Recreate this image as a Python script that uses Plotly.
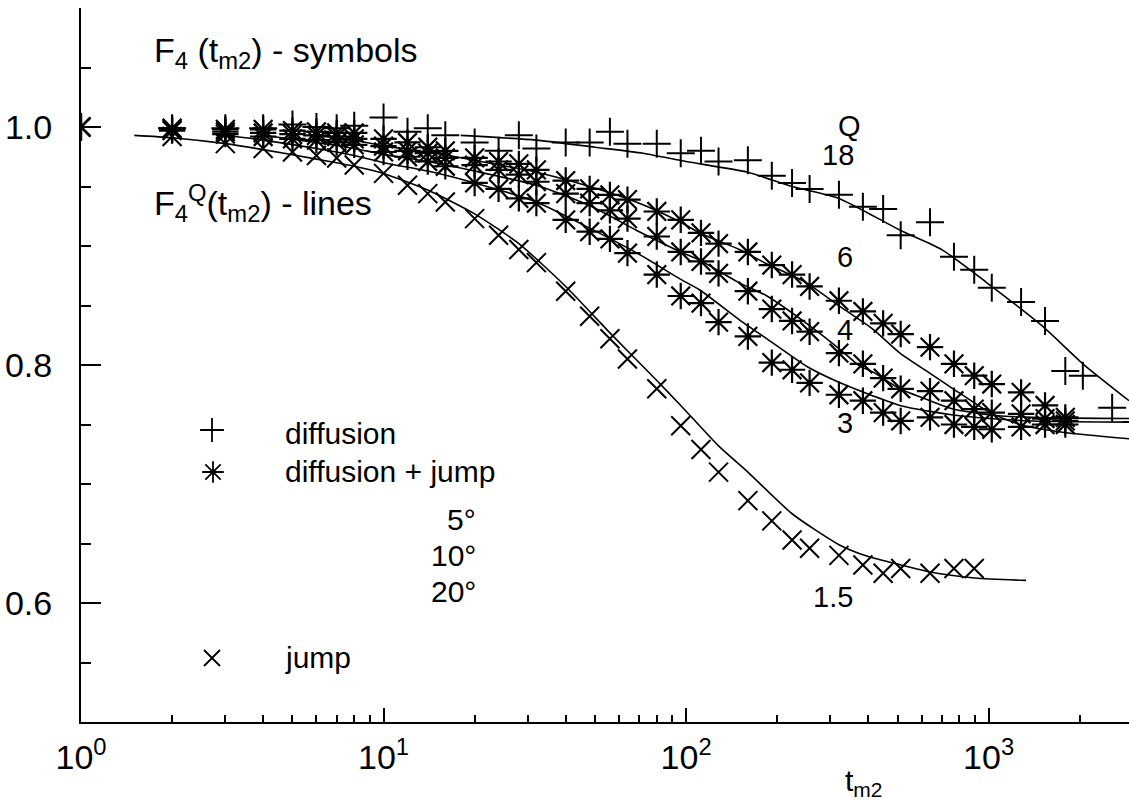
import plotly.graph_objects as go
import math

# ---------------- data ----------------
t_diff = [1, 2, 3, 4, 5, 6, 7, 8, 10, 12, 14, 16, 20, 24, 28, 32, 40, 48, 56, 64,
          80, 96, 112, 128, 160, 192, 224, 256, 320, 384, 448, 512, 640, 768, 896,
          1024, 1280, 1536, 1792, 2048, 2560, 3072]
f_diff = [1.0, 0.999, 0.999, 0.999, 1.002, 1.0, 0.999, 1.001, 1.008, 0.996, 0.999, 0.993,
          0.987, 0.980, 0.993, 0.982, 0.987, 0.987, 0.996, 0.986, 0.986, 0.978, 0.980, 0.971,
          0.972, 0.959, 0.953, 0.948, 0.943, 0.933, 0.931, 0.909, 0.920, 0.891, 0.880, 0.865,
          0.853, 0.837, 0.795, 0.791, 0.764, 0.752]

t_dj = [1, 2, 3, 4, 5, 6, 7, 8, 10, 12, 14, 16, 20, 24, 28, 32, 40, 48, 56, 64,
        80, 96, 112, 128, 160, 192, 224, 256, 320, 384, 448, 512, 640, 768, 896,
        1024, 1280, 1536, 1792]
f_dj_5 = [1.0, 0.999, 0.998, 0.998, 0.997, 0.996, 0.995, 0.995, 0.990, 0.987, 0.983, 0.980,
          0.974, 0.971, 0.969, 0.964, 0.955, 0.948, 0.943, 0.939, 0.929, 0.922, 0.911, 0.902,
          0.895, 0.884, 0.876, 0.866, 0.854, 0.845, 0.835, 0.826, 0.815, 0.801, 0.791, 0.784,
          0.777, 0.766, 0.756]
f_dj_10 = [1.0, 0.998, 0.996, 0.995, 0.994, 0.993, 0.992, 0.990, 0.984, 0.980, 0.978, 0.974,
           0.968, 0.964, 0.960, 0.954, 0.944, 0.936, 0.930, 0.923, 0.908, 0.895, 0.887, 0.877,
           0.862, 0.847, 0.837, 0.828, 0.810, 0.801, 0.789, 0.780, 0.778, 0.770, 0.763, 0.760,
           0.759, 0.755, 0.753]
f_dj_20 = [1.0, 0.997, 0.994, 0.992, 0.990, 0.989, 0.987, 0.985, 0.979, 0.975, 0.971, 0.967,
           0.953, 0.948, 0.940, 0.936, 0.922, 0.912, 0.906, 0.894, 0.876, 0.858, 0.852, 0.836,
           0.824, 0.802, 0.796, 0.785, 0.775, 0.770, 0.760, 0.753, 0.756, 0.750, 0.748, 0.746,
           0.748, 0.750, 0.750]

t_jump = [1, 2, 3, 4, 5, 6, 7, 8, 10, 12, 14, 16, 20, 24, 28, 32, 40, 48, 56, 64,
          80, 96, 112, 128, 160, 192, 224, 256, 320, 384, 448, 512, 640, 768, 896]
f_jump = [1.0, 0.992, 0.986, 0.982, 0.979, 0.976, 0.974, 0.968, 0.961, 0.951, 0.944, 0.937,
          0.923, 0.909, 0.897, 0.886, 0.862, 0.841, 0.822, 0.805, 0.780, 0.749, 0.729, 0.710,
          0.686, 0.669, 0.653, 0.646, 0.640, 0.632, 0.625, 0.629, 0.625, 0.629, 0.629]

# model curves F4^Q(t)
tQ18 = [18, 32, 50, 72, 100, 160, 224, 320, 512, 700, 1000, 1500, 2048, 2910]
fQ18 = [0.993, 0.989, 0.983, 0.978, 0.971, 0.962, 0.950, 0.940, 0.913, 0.897, 0.868, 0.833, 0.801, 0.770]
tQ6 = [6, 8, 10, 14, 20, 32, 48, 70, 96, 111, 150, 185, 250, 323, 415, 509, 640, 763, 1010, 1268, 1811, 2910]
fQ6 = [0.993, 0.989, 0.984, 0.979, 0.972, 0.962, 0.950, 0.936, 0.920, 0.911, 0.897, 0.885, 0.869,
       0.849, 0.830, 0.810, 0.793, 0.780, 0.760, 0.750, 0.743, 0.738]
tQ4 = [4, 6, 8, 10, 14, 20, 32, 48, 70, 96, 111, 150, 185, 250, 323, 375, 415, 509, 640, 763, 1010, 1400, 2910]
fQ4 = [0.993, 0.987, 0.982, 0.977, 0.971, 0.963, 0.951, 0.934, 0.912, 0.895, 0.888, 0.869, 0.858,
       0.835, 0.813, 0.799, 0.794, 0.780, 0.770, 0.763, 0.758, 0.756, 0.755]
tQ3 = [3, 4, 6, 8, 10, 14, 20, 32, 48, 70, 96, 111, 150, 185, 250, 323, 415, 509, 640, 763, 1010, 1400, 2910]
fQ3 = [0.993, 0.989, 0.982, 0.976, 0.970, 0.963, 0.953, 0.937, 0.915, 0.893, 0.872, 0.863, 0.838,
       0.822, 0.799, 0.785, 0.774, 0.766, 0.761, 0.758, 0.755, 0.753, 0.752]
tQ15 = [1.5, 2, 3, 4, 6, 8, 10, 14, 20, 28, 40, 56, 64, 80, 96, 128, 160, 224, 320, 400, 512, 640, 900, 1330]
fQ15 = [0.993, 0.991, 0.986, 0.981, 0.973, 0.967, 0.961, 0.947, 0.927, 0.902, 0.866, 0.827, 0.812,
        0.787, 0.766, 0.732, 0.710, 0.675, 0.649, 0.639, 0.632, 0.626, 0.621, 0.619]

y_tickvals = [0.6, 0.8, 1.0]
y_ticktext = ["0.6", "0.8", "1.0"]
x_tickvals = [1, 10, 100, 1000]
x_ticktext = ["10<sup>0</sup>", "10<sup>1</sup>", "10<sup>2</sup>", "10<sup>3</sup>"]

# ---------------- layout geometry ----------------
W, H = 1129, 803
ML, MR, MT, MB = 81, 0, 8, 81
PW, PH = W - ML - MR, H - MT - MB
FONT = "Liberation Sans, Arial, Helvetica, sans-serif"
BLACK = "black"


def px(x):
    return (x - ML) / PW


def py(y):
    return (H - MB - y) / PH


fig = go.Figure()

# model lines
for tt, ff in [(tQ18, fQ18), (tQ6, fQ6), (tQ4, fQ4), (tQ3, fQ3), (tQ15, fQ15)]:
    fig.add_trace(go.Scatter(x=tt, y=ff, mode="lines", line=dict(color=BLACK, width=1.6, shape="spline", smoothing=0.6),
                             showlegend=False, hoverinfo="skip"))

mk_plus = dict(symbol="cross-thin-open", size=20, color=BLACK, line=dict(color=BLACK, width=2))
mk_ast = dict(symbol="asterisk-open", size=22, color=BLACK, line=dict(color=BLACK, width=2.2))
mk_x = dict(symbol="x-thin-open", size=19, color=BLACK, line=dict(color=BLACK, width=2))

fig.add_trace(go.Scatter(x=t_diff, y=f_diff, mode="markers", marker=mk_plus, showlegend=False))
for ff in (f_dj_5, f_dj_10, f_dj_20):
    fig.add_trace(go.Scatter(x=t_dj, y=ff, mode="markers", marker=mk_ast, showlegend=False))
fig.add_trace(go.Scatter(x=t_jump, y=f_jump, mode="markers", marker=mk_x, showlegend=False))

# legend symbols on a pixel overlay axis
leg_sym = [("cross-thin-open", 212, 430, 17), ("asterisk-open", 213, 472, 18), ("x-thin-open", 212, 658, 16)]
for sym, lx, ly, sz in leg_sym:
    fig.add_trace(go.Scatter(x=[lx - ML], y=[H - MB - ly], xaxis="x2", yaxis="y2", mode="markers",
                             marker=dict(symbol=sym, size=sz, color=BLACK, line=dict(color=BLACK, width=1.8)),
                             showlegend=False, hoverinfo="skip"))

ann = []


def add_text(text, x, y, size, xanchor="left", yanchor="middle"):
    ann.append(dict(text=text, x=px(x), y=py(y), xref="paper", yref="paper", showarrow=False,
                    xanchor=xanchor, yanchor=yanchor, font=dict(family=FONT, size=size, color=BLACK)))


add_text("F<sub>4</sub> (t<sub>m2</sub>) - symbols", 152, 52, 34)
add_text("F<sub>4</sub><sup>Q</sup>(t<sub>m2</sub>) - lines", 152, 203, 34)
add_text("Q", 849, 126, 29, "center")
add_text("18", 838, 155, 29, "center")
add_text("6", 845, 257, 29, "center")
add_text("4", 845, 330, 29, "center")
add_text("3", 845, 423, 29, "center")
add_text("1.5", 833, 597, 29, "center")
add_text("diffusion", 283, 433, 30)
add_text("diffusion + jump", 283, 471, 30)
add_text("5°", 478, 519, 30, "right")
add_text("10°", 478, 555, 30, "right")
add_text("20°", 478, 591, 30, "right")
add_text("jump", 283, 657, 30)
add_text("t<sub>m2</sub>", 864, 782, 30, "center")

fig.update_layout(
    width=W, height=H,
    margin=dict(l=ML, r=MR, t=MT, b=MB, pad=0),
    paper_bgcolor="white", plot_bgcolor="white",
    showlegend=False,
    annotations=ann,
    font=dict(family=FONT, color=BLACK),
    xaxis=dict(type="log", range=[0, math.log10(2910)], showgrid=False, zeroline=False,
               showline=True, linecolor=BLACK, linewidth=2,
               ticks="inside", ticklen=14, tickwidth=2, tickcolor=BLACK,
               tickmode="array", tickvals=x_tickvals, ticktext=x_ticktext,
               tickfont=dict(family=FONT, size=34, color=BLACK), ticklabelstandoff=4,
               minor=dict(ticks="inside", ticklen=7, tickwidth=2, tickcolor=BLACK, showgrid=False,
                          tickmode="array",
                          tickvals=[m * 10 ** k for k in range(4) for m in range(2, 10)])),
    yaxis=dict(range=[0.5, 1.1], showgrid=False, zeroline=False,
               showline=True, linecolor=BLACK, linewidth=2,
               ticks="inside", ticklen=20, tickwidth=2, tickcolor=BLACK,
               tickmode="array", tickvals=y_tickvals, ticktext=y_ticktext,
               tickfont=dict(family=FONT, size=34, color=BLACK), ticklabelstandoff=20,
               minor=dict(ticks="inside", ticklen=10, tickwidth=2, tickcolor=BLACK, showgrid=False,
                          tick0=0.5, dtick=0.05)),
    xaxis2=dict(overlaying="x", range=[0, PW], visible=False, fixedrange=True),
    yaxis2=dict(overlaying="y", range=[0, PH], visible=False, fixedrange=True),
)

fig.write_html("out.html")
